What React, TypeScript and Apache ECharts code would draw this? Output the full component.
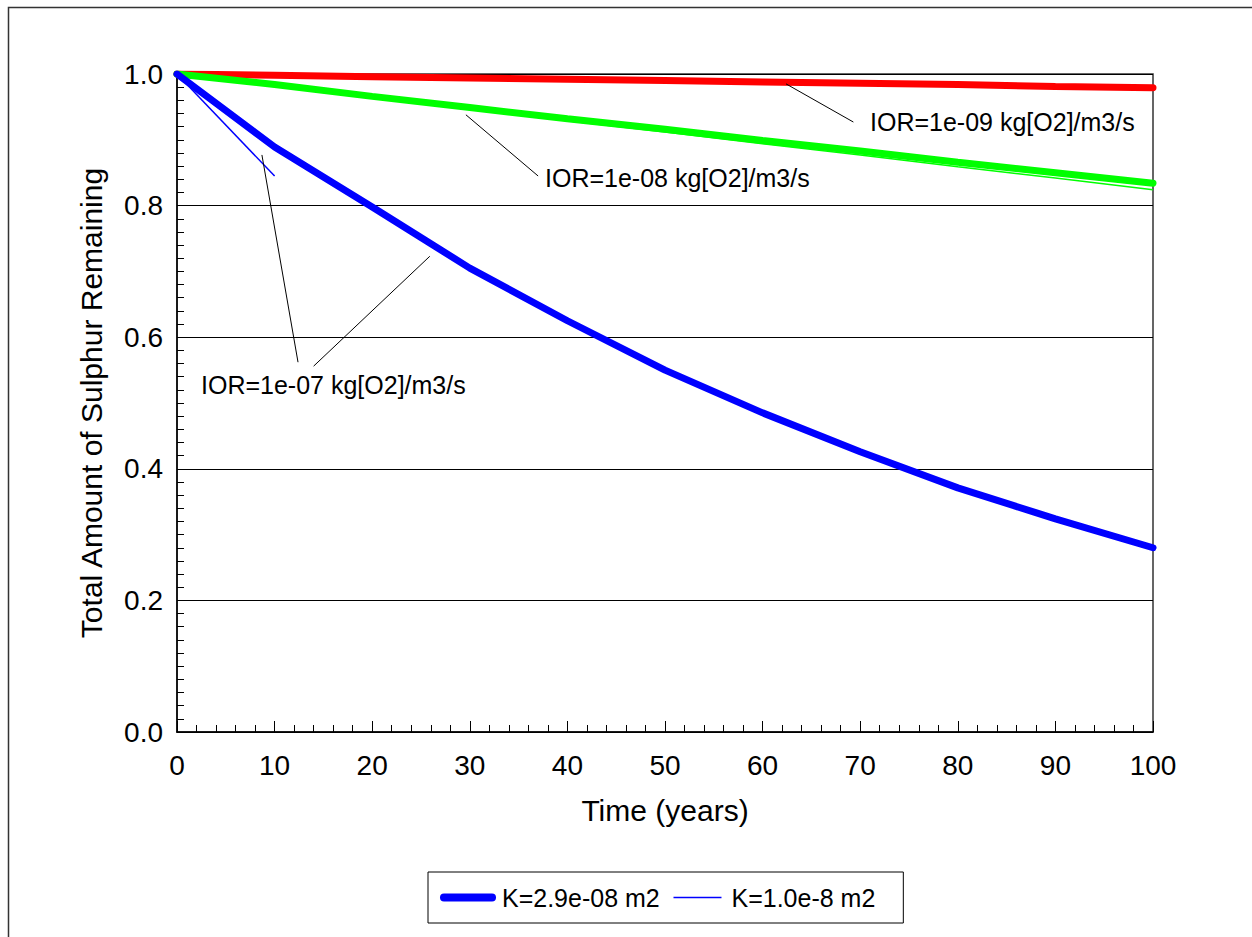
import React, { useEffect, useRef } from "react";
import * as echarts from "echarts";

const years = [0, 10, 20, 30, 40, 50, 60, 70, 80, 90, 100];
const blueThick = [1.0, 0.889, 0.798, 0.705, 0.625, 0.55, 0.485, 0.426, 0.371, 0.324, 0.28];
const blueThinYears = [0, 10];
const blueThin = [1.0, 0.845];
const greenThick = [1.0, 0.984, 0.966, 0.949, 0.932, 0.916, 0.899, 0.883, 0.866, 0.85, 0.834];
const greenThin = [1.0, 0.983, 0.965, 0.947, 0.929, 0.912, 0.894, 0.877, 0.859, 0.842, 0.824];
const redThick = [1.0, 0.998, 0.996, 0.994, 0.992, 0.99, 0.988, 0.986, 0.984, 0.981, 0.979];
const redThin = [1.0, 0.998, 0.996, 0.994, 0.991, 0.989, 0.987, 0.985, 0.983, 0.98, 0.978];

const legendNames = ["K=2.9e-08 m2", "K=1.0e-8 m2"];
const annotations = [
  { text: "IOR=1e-09 kg[O2]/m3/s", lines: [[[62.4, 0.985], [69.3, 0.927]]] },
  { text: "IOR=1e-08 kg[O2]/m3/s", lines: [[[29.6, 0.938], [37.0, 0.845]]] },
  {
    text: "IOR=1e-07 kg[O2]/m3/s",
    lines: [
      [[8.7, 0.877], [12.4, 0.562]],
      [[25.9, 0.723], [14.0, 0.556]],
    ],
  },
];
const annotationTextPos = [
  [870, 122],
  [545, 178],
  [201, 385],
];

const FONT = "'Liberation Sans', Arial, sans-serif";

function pair(xs: number[], ys: number[]) {
  return xs.map((x, i) => [x, ys[i]]);
}

export default function App() {
  const ref = useRef<HTMLDivElement>(null);
  useEffect(() => {
    if (!ref.current) return;
    const chart = echarts.init(ref.current, undefined, { renderer: "svg" });
    const markLineData: any[] = [];
    annotations.forEach((a) =>
      a.lines.forEach((l) => markLineData.push([{ coord: l[0] }, { coord: l[1] }]))
    );
    const thin = 1.5;
    const thick = 7;
    chart.setOption({
      animation: false,
      backgroundColor: "#fff",
      grid: {
        left: 177,
        right: 99,
        top: 74,
        bottom: 205,
        show: true,
        borderColor: "#333",
        borderWidth: 1.5,
        backgroundColor: "transparent",
      },
      legend: {
        data: [
          { name: legendNames[0], itemStyle: { opacity: 0 }, lineStyle: { width: 8, color: "#0000ff", cap: "round", join: "round" } },
          { name: legendNames[1], itemStyle: { opacity: 0 }, lineStyle: { width: 1.5, color: "#0000ff" } },
        ],
        left: 428,
        top: 872,
        orient: "horizontal",
        borderColor: "#000",
        borderWidth: 1,
        padding: [13, 28, 13, 12],
        itemWidth: 48,
        itemHeight: 14,
        itemGap: 13,
        textStyle: { fontFamily: FONT, fontSize: 25, color: "#000", padding: [0, 0, 0, 5] },
      },
      xAxis: {
        type: "value",
        min: 0,
        max: 100,
        interval: 10,
        name: "Time (years)",
        nameLocation: "middle",
        nameGap: 63,
        nameTextStyle: { fontFamily: FONT, fontSize: 30, color: "#000" },
        axisLine: { onZero: false, lineStyle: { color: "#000", width: 1.5 } },
        axisTick: { inside: true, length: 11, lineStyle: { color: "#000" } },
        minorTick: { show: true, splitNumber: 5, length: 7, lineStyle: { color: "#000" } },
        splitLine: { show: false },
        axisLabel: { fontFamily: FONT, fontSize: 28, color: "#000", margin: 19 },
      },
      yAxis: {
        type: "value",
        min: 0,
        max: 1,
        interval: 0.2,
        name: "Total Amount of Sulphur Remaining",
        nameLocation: "middle",
        nameGap: 71,
        nameTextStyle: { fontFamily: FONT, fontSize: 30, color: "#000" },
        axisLine: { onZero: false, lineStyle: { color: "#000", width: 1.5 } },
        axisTick: { inside: true, length: 11, lineStyle: { color: "#000" } },
        minorTick: { show: true, splitNumber: 10, length: 7, lineStyle: { color: "#000" } },
        splitLine: { show: true, lineStyle: { color: "#000", width: 1 } },
        axisLabel: {
          fontFamily: FONT,
          fontSize: 28,
          color: "#000",
          margin: 14,
          formatter: (v: number) => v.toFixed(1),
        },
      },
      series: [
        {
          name: "red-thin",
          type: "line",
          data: pair(years, redThin),
          showSymbol: false,
          symbol: "none",
          lineStyle: { color: "#ff0000", width: thin },
          z: 2,
        },
        {
          name: "green-thin",
          type: "line",
          data: pair(years, greenThin),
          showSymbol: false,
          symbol: "none",
          lineStyle: { color: "#00ff00", width: thin },
          z: 2,
        },
        {
          name: "red-thick",
          type: "line",
          data: pair(years, redThick),
          showSymbol: false,
          symbol: "none",
          lineStyle: { color: "#ff0000", width: thick, cap: "round" },
          z: 3,
        },
        {
          name: "green-thick",
          type: "line",
          data: pair(years, greenThick),
          showSymbol: false,
          symbol: "none",
          lineStyle: { color: "#00ff00", width: thick, cap: "round" },
          z: 3,
        },
        {
          name: legendNames[0],
          type: "line",
          data: pair(years, blueThick),
          showSymbol: false,
          symbol: "none",
          itemStyle: { color: "#0000ff" },
          lineStyle: { color: "#0000ff", width: thick, cap: "round" },
          z: 3,
          markLine: {
            silent: true,
            symbol: ["none", "none"],
            label: { show: false },
            lineStyle: { color: "#000", width: 1, type: "solid" },
            data: markLineData,
          },
        },
        {
          name: legendNames[1],
          type: "line",
          data: pair(blueThinYears, blueThin),
          showSymbol: false,
          symbol: "none",
          itemStyle: { color: "#0000ff" },
          lineStyle: { color: "#0000ff", width: thin },
          z: 4,
        },
      ],
      graphic: [
        {
          type: "rect",
          silent: true,
          shape: { x: 8.5, y: 7.5, width: 1400, height: 1100 },
          style: { fill: "none", stroke: "#333", lineWidth: 1.5 },
          z: -10,
        },
        ...annotations.map((a, i) => ({
          type: "text",
          x: annotationTextPos[i][0],
          y: annotationTextPos[i][1],
          style: {
            text: a.text,
            fontFamily: FONT,
            fontSize: 25,
            fill: "#000",
            verticalAlign: "middle",
          },
        })),
      ],
    });
    return () => chart.dispose();
  }, []);
  return <div ref={ref} style={{ width: 1252, height: 937, position: "absolute", left: 0, top: 0 }} />;
}
